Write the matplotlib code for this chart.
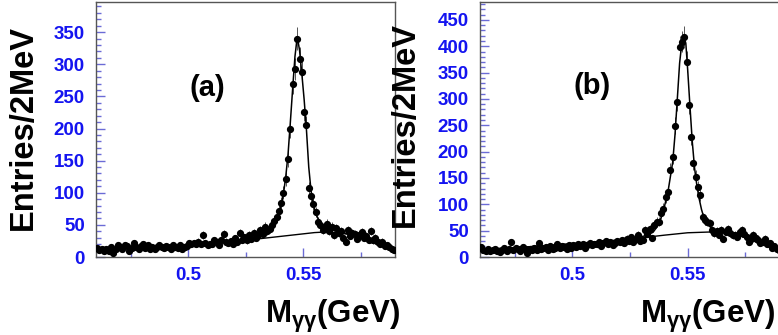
import numpy as np
import matplotlib
matplotlib.use("Agg")
import matplotlib.pyplot as plt
from matplotlib.ticker import MultipleLocator, FixedLocator

plt.rcParams['font.family'] = 'Liberation Sans'
plt.rcParams['font.weight'] = 'bold'
plt.rcParams['mathtext.fontset'] = 'custom'
plt.rcParams['mathtext.rm'] = 'Liberation Sans:bold'
plt.rcParams['mathtext.it'] = 'Liberation Sans:bold'
plt.rcParams['mathtext.bf'] = 'Liberation Sans:bold'

# 1 MeV bins, 0.46 - 0.59 GeV
bin_lo, bin_w, n_bins = 0.46, 0.001, 130
mass = bin_lo + bin_w * (np.arange(n_bins) + 0.5)

counts_a = [14, 11, 13, 9, 12, 10, 16, 7, 13, 18,
            15, 12, 19, 17, 10, 14, 22, 16, 12, 17,
            21, 14, 18, 12, 15, 13, 16, 19, 15, 14,
            17, 15, 13, 18, 16, 14, 19, 13, 15, 17,
            22, 21, 22, 20, 24, 21, 34, 22, 18, 20,
            21, 26, 23, 19, 27, 36, 24, 22, 25, 20,
            29, 24, 38, 27, 31, 26, 35, 28, 38, 30,
            34, 42, 36, 47, 40, 44, 50, 56, 62, 72,
            84, 100, 121, 153, 199, 270, 293, 340, 309, 288,
            226, 205, 107, 95, 83, 70, 55, 50, 42, 45,
            52, 40, 47, 34, 45, 37, 41, 30, 24, 42,
            33, 38, 36, 28, 35, 39, 30, 33, 27, 41,
            26, 30, 23, 21, 24, 17, 19, 15, 13, 11]

counts_b = [19, 14, 12, 15, 11, 13, 16, 12, 10, 14,
            17, 12, 15, 28, 13, 18, 15, 11, 19, 16,
            8, 16, 13, 17, 14, 26, 15, 17, 19, 14,
            21, 16, 18, 24, 17, 20, 19, 15, 22, 18,
            22, 19, 25, 21, 24, 18, 23, 27, 22, 25,
            24, 28, 21, 26, 30, 25, 29, 23, 27, 31,
            28, 33, 26, 35, 30, 38, 29, 34, 42, 31,
            32, 51, 44, 54, 36, 61, 67, 67, 83, 92,
            114, 124, 165, 190, 249, 295, 399, 409, 418, 371,
            289, 227, 179, 152, 133, 118, 75, 70, 67, 64,
            51, 45, 49, 42, 52, 35, 48, 54, 45, 41,
            42, 38, 48, 51, 44, 38, 29, 34, 42, 36,
            32, 27, 29, 35, 24, 27, 18, 21, 15, 13]

# fitted curves (signal + background, background only)
fit_x_a = [0.46, 0.47, 0.48, 0.49, 0.50, 0.51, 0.52, 0.527, 0.532, 0.535,
           0.5375, 0.5395, 0.5405, 0.5415, 0.5425, 0.5435, 0.5445, 0.5455, 0.5465, 0.5475,
           0.5485, 0.5495, 0.5505, 0.5515, 0.5525, 0.5535, 0.5545, 0.5555, 0.5565, 0.5575,
           0.559, 0.561, 0.5635, 0.567, 0.5705, 0.574, 0.5777, 0.582, 0.586, 0.59]
fit_tot_a = [13.5, 14.5, 16, 17.5, 19.5, 22, 25.5, 29, 33, 38,
             48, 66, 80, 98, 125, 160, 210, 262, 312, 343,
             322, 285, 245, 198, 140, 103, 82, 68, 60, 55,
             49, 45, 42, 38.5, 35, 31, 26, 20, 14.5, 9]
bkg_x_a = [0.46, 0.47, 0.48, 0.49, 0.50, 0.51, 0.52, 0.53, 0.54, 0.55,
           0.555, 0.56, 0.565, 0.57, 0.575, 0.58, 0.585, 0.59]
bkg_a = [13.5, 14.5, 16, 17.5, 19, 21.5, 24.5, 28, 32, 36,
         38, 39, 38, 35, 30, 23.5, 16.5, 9]

fit_x_b = [0.46, 0.47, 0.48, 0.49, 0.50, 0.51, 0.52, 0.528, 0.532, 0.535,
           0.5375, 0.5395, 0.5415, 0.5435, 0.5445, 0.5455, 0.5465, 0.5475, 0.5483, 0.5492,
           0.55, 0.551, 0.552, 0.553, 0.554, 0.555, 0.556, 0.557, 0.558, 0.5595,
           0.561, 0.564, 0.567, 0.57, 0.573, 0.576, 0.58, 0.584, 0.587, 0.59]
fit_tot_b = [14, 16.5, 19, 22, 25, 28.5, 32, 37, 40.5, 47,
             62, 88, 125, 180, 232, 300, 368, 408, 420, 405,
             355, 285, 218, 168, 135, 110, 90, 75, 66, 58,
             53, 50, 47, 44.5, 40, 35, 28, 21.5, 16, 11]
bkg_x_b = [0.46, 0.48, 0.50, 0.51, 0.52, 0.53, 0.54, 0.55, 0.56, 0.565,
           0.57, 0.576, 0.58, 0.585, 0.59]
bkg_b = [14, 19, 25, 28.5, 32, 36.5, 41.5, 46, 47.5, 47,
         44, 35, 28, 19.5, 11]

TICK_COL = '#6b6bd6'
LABEL_COL = '#1414f0'


def draw_panel(ax, counts, fx, ftot, bx, bkg, ymax, tag, tag_pos):
    counts = np.asarray(counts, dtype=float)
    ax.errorbar(mass, counts, yerr=np.sqrt(counts), fmt='o', ms=4.2,
                color='black', ecolor='#555555', elinewidth=0.7, capsize=0, zorder=3)
    ax.plot(fx, ftot, color='black', lw=1.1, zorder=4)
    ax.plot(bx, bkg, color='black', lw=1.0, zorder=4)

    ax.set_xlim(0.46, 0.59)
    ax.set_ylim(0, ymax)
    ax.xaxis.set_major_locator(FixedLocator([0.5, 0.55]))
    ax.xaxis.set_minor_locator(FixedLocator([0.475, 0.525, 0.575]))
    ax.set_xticklabels(['0.5', '0.55'])
    ax.yaxis.set_major_locator(MultipleLocator(50))
    ax.yaxis.set_minor_locator(MultipleLocator(10))

    ax.tick_params(which='both', direction='in', color=TICK_COL,
                   labelcolor=LABEL_COL, labelsize=13.5, width=1)
    ax.tick_params(which='major', length=6.5)
    ax.tick_params(which='minor', length=3.5)
    ax.tick_params(axis='y', pad=8)
    ax.tick_params(axis='x', pad=7)
    for lab in ax.get_xticklabels() + ax.get_yticklabels():
        lab.set_fontweight('bold')
    for s in ax.spines.values():
        s.set_color('#555555')
        s.set_linewidth(1)

    ax.text(tag_pos[0], tag_pos[1], tag, transform=ax.transAxes,
            ha='center', va='center', fontsize=21, fontweight='bold')


fig = plt.figure(figsize=(7.78, 3.35), dpi=100)
ax_a = fig.add_axes([96 / 778, 78 / 335, 299 / 778, 255 / 335])
ax_b = fig.add_axes([480 / 778, 78 / 335, 300 / 778, 255 / 335])

draw_panel(ax_a, counts_a, fit_x_a, fit_tot_a, bkg_x_a, bkg_a, 397, '(a)', (0.371, 0.663))
draw_panel(ax_b, counts_b, fit_x_b, fit_tot_b, bkg_x_b, bkg_b, 484, '(b)', (0.375, 0.671))

ylab = 'Entries/2MeV'
xlab = r'M$_{\gamma\gamma}$(GeV)'
fig.text(23 / 778, 1 - 128 / 335, ylab, rotation=90, ha='center', va='center',
         fontsize=23.5, fontweight='bold')
fig.text(405 / 778, 1 - 124 / 335, ylab, rotation=90, ha='center', va='center',
         fontsize=23.5, fontweight='bold')
fig.text(265 / 778, 12 / 335, xlab, ha='left', va='baseline', fontsize=22.5, fontweight='bold')
fig.text(775 / 778, 12 / 335, xlab, ha='right', va='baseline', fontsize=22.5, fontweight='bold')

fig.savefig('out.png', dpi=100)
